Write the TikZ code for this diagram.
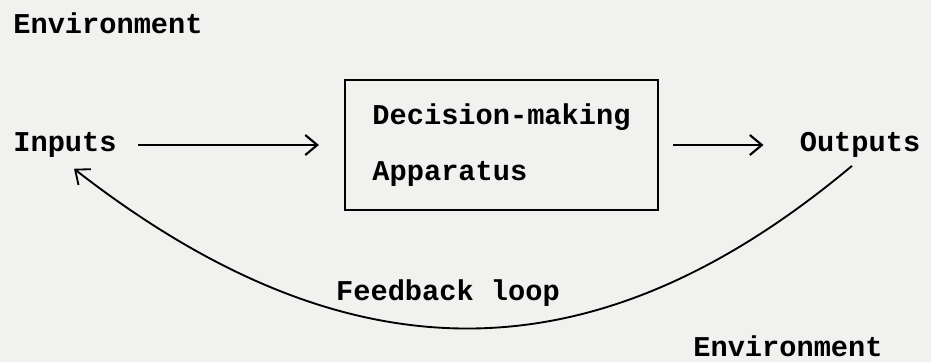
\documentclass[tikz,border=0pt]{standalone}
\usepackage{fontspec}
\setmonofont{Liberation Mono}
\usetikzlibrary{arrows.meta,calc}
\definecolor{PaperGrey}{HTML}{F1F1EF}
\newcommand{\typed}{\ttfamily\bfseries\fontsize{21.5}{42}\selectfont}

\begin{document}
\begin{tikzpicture}[x=.75pt, y=-.75pt,
    lbl/.style={font=\typed, inner sep=0pt},
    flow/.style={line width=1.6pt, -{Straight Barb[length=9pt,width=15pt]}},
    apparatus/.style={draw, line width=1.6pt, font=\typed, align=left,
        inner xsep=20pt, minimum width=234.75pt, minimum height=97.5pt}]
        % paper
        \fill[PaperGrey] (0,0) rectangle (931,362);
        \useasboundingbox (0,0) rectangle (931,362);

        \node[lbl] (envtop) at (108,23) {Environment};
        \node[lbl] (inputs) at (65,145) {Inputs};
        \node[apparatus] (dm) at (501.5,145) {Decision-making\\Apparatus};
        \node[lbl] (outputs) at (860,145) {Outputs};
        \node[lbl] (fbl) at (448,293) {Feedback loop};
        \node[lbl] (envbot) at (788,346) {Environment};

        \draw[flow] ($(inputs.east)+(21,0)$) -- ($(dm.west)+(-25,0)$);
        \draw[flow] ($(dm.east)+(14,0)$) -- ($(outputs.west)+(-36,0)$);

        % loop back to the inputs
        \draw[flow, line width=1.4pt] ($(outputs.south)+(-8,8)$) .. controls (594,382) and (348,382) .. ($(inputs.south)+(9,11)$);
\end{tikzpicture}
\end{document}
